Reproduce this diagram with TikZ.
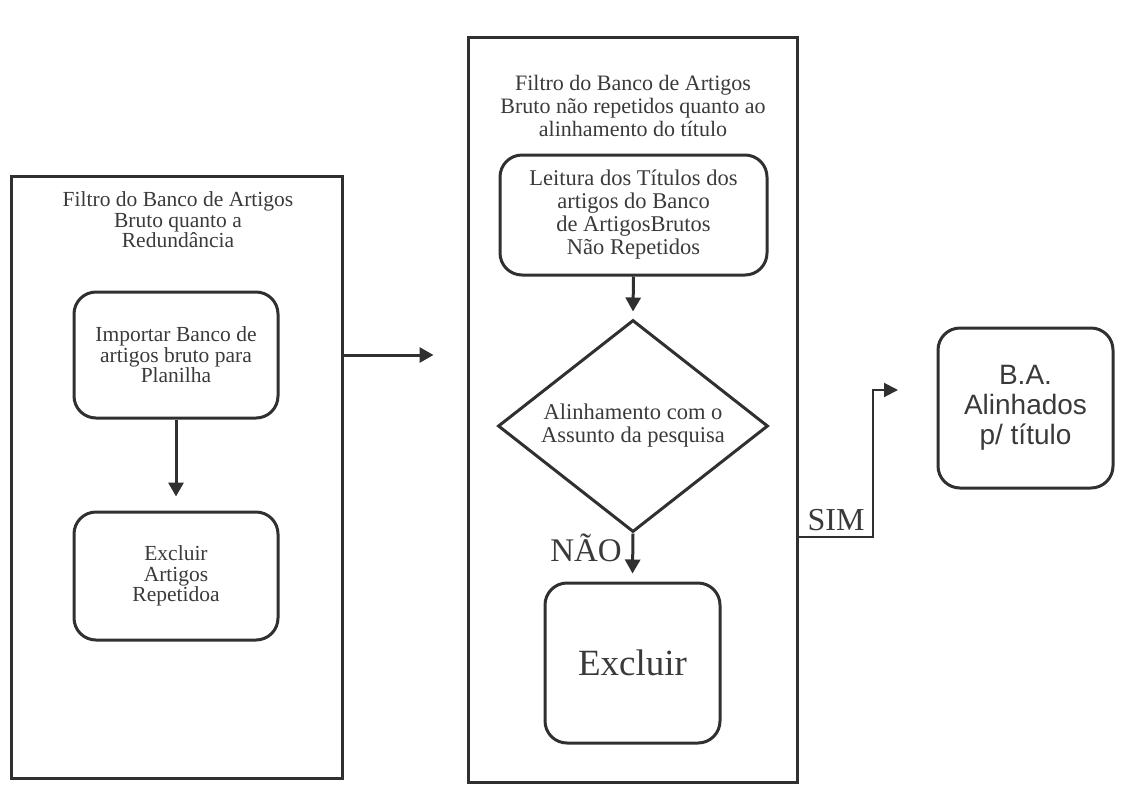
\documentclass[tikz,border=0pt]{standalone}
\usepackage{fontspec}
\setmainfont{Liberation Serif}
\newfontfamily\arialfont{Liberation Sans}
\usetikzlibrary{shapes.geometric,arrows.meta}
\definecolor{ink}{HTML}{303030}
\definecolor{txt}{HTML}{3a3a3a}
\begin{document}
\begin{tikzpicture}[x=1pt,y=-1pt,
  panel/.style={draw=ink,line width=3pt,inner sep=0pt},
  rbox/.style={draw=ink,line width=3pt,rounded corners=22pt,inner sep=0pt,align=center,text=txt},
  ttl/.style={align=center,text=txt,inner sep=0pt},
  arr/.style={draw=ink,line width=3pt,-{Triangle[length=14pt,width=15pt]}},
  thin/.style={draw=ink,line width=2pt,-{Triangle[length=14pt,width=14pt]}}]
\useasboundingbox (0,0) rectangle (1126,801);
% panels
\node[panel,minimum width=331pt,minimum height=602pt] (leftpanel) at (176.5,477) {};
\node[panel,minimum width=329pt,minimum height=745pt] (midpanel) at (632.5,409.5) {};
% left panel content
\node[ttl,font={\fontsize{21.5pt}{20.5pt}\selectfont}] (lt) at (178,220) {Filtro do Banco de Artigos\\Bruto quanto a\\Redundância};
\node[rbox,minimum width=204pt,minimum height=126pt,font={\fontsize{21.5pt}{20.5pt}\selectfont}] (box1) at (176,355) {Importar Banco de\\artigos bruto para\\Planilha};
\node[rbox,minimum width=204pt,minimum height=128pt,font={\fontsize{21.5pt}{20.5pt}\selectfont}] (box2) at (176,576) {Excluir\\Artigos\\Repetidoa};
% middle panel content
\node[ttl,font={\fontsize{22pt}{23pt}\selectfont}] (mt) at (633,106) {Filtro do Banco de Artigos\\Bruto não repetidos quanto ao\\alinhamento do título};
\node[rbox,minimum width=267pt,minimum height=120pt,font={\fontsize{22.5pt}{23pt}\selectfont}] (box3) at (633.5,215) {Leitura dos Títulos dos\\artigos do Banco\\de ArtigosBrutos\\Não Repetidos};
\node[diamond,draw=ink,line width=3pt,aspect=1.27,inner sep=0pt,minimum width=270pt,minimum height=212pt,align=center,text=txt,font={\fontsize{22.5pt}{23pt}\selectfont}] (dia) at (633,426) {Alinhamento com o\\Assunto da pesquisa};
\node[rbox,minimum width=175pt,minimum height=160pt,font={\fontsize{37pt}{37pt}\selectfont}] (box4) at (632.5,663) {Excluir};
\node[ttl,font={\fontsize{33pt}{33pt}\selectfont}] (nao) at (586,548) {NÃO};
% right box
\node[rbox,minimum width=175pt,minimum height=160pt,font={\arialfont\fontsize{28pt}{30pt}\selectfont}] (box5) at (1025.5,408) {B.A.\\Alinhados\\p/ título};
\node[ttl,font={\fontsize{32pt}{32pt}\selectfont}] (sim) at (836,520) {SIM};
% connectors
\draw[arr] (box1.south) -- ([yshift=14pt]box2.north);
\draw[arr] (box1.east -| leftpanel.east) -- ([xshift=-33pt]box1.east -| midpanel.west);
\draw[arr] (box3.south) -- ([yshift=7pt]dia.north);
\draw[arr] (dia.south) -- ([yshift=8pt]box4.north);
\coordinate (simcorner) at (873,537);
\coordinate (simtip) at (898,390);
\draw[thin] (simcorner -| midpanel.east) -- (simcorner) |- (simtip);
\end{tikzpicture}
\end{document}
